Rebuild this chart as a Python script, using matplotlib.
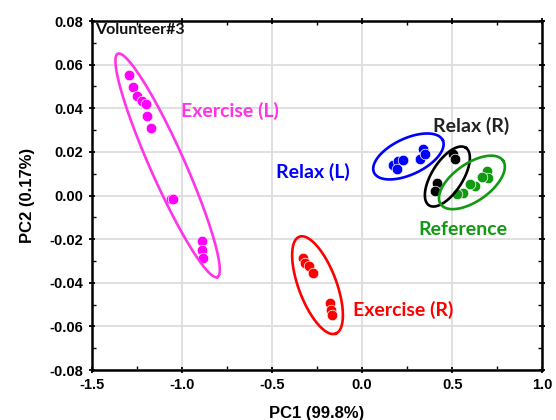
import matplotlib.pyplot as plt
import numpy as np
from matplotlib.ticker import MultipleLocator

# PCA scores (PC1, PC2) per measurement group
ex_l_pc1 = [-1.290, -1.272, -1.249, -1.222, -1.198, -1.191, -1.170, -1.062, -1.050, -0.889, -0.886, -0.884]
ex_l_pc2 = [0.0552, 0.0497, 0.0457, 0.0434, 0.0418, 0.0363, 0.0308, -0.0014, -0.0014, -0.0210, -0.0248, -0.0285]

ex_r_pc1 = [-0.329, -0.317, -0.293, -0.271, -0.178, -0.174, -0.169]
ex_r_pc2 = [-0.0286, -0.0308, -0.0325, -0.0355, -0.0493, -0.0524, -0.0547]

relax_l_pc1 = [0.171, 0.199, 0.227, 0.193, 0.321, 0.338, 0.349]
relax_l_pc2 = [0.0142, 0.0156, 0.0161, 0.0120, 0.0166, 0.0211, 0.0189]

relax_r_pc1 = [0.506, 0.515, 0.414, 0.404]
relax_r_pc2 = [0.0189, 0.0166, 0.0058, 0.0020]

ref_pc1 = [0.691, 0.700, 0.663, 0.626, 0.598, 0.561, 0.524]
ref_pc2 = [0.0112, 0.0081, 0.0087, 0.0043, 0.0051, 0.0012, 0.0005]

plt.rcParams['font.family'] = ['Liberation Sans', 'DejaVu Sans']

fig = plt.figure(figsize=(5.56, 4.2), dpi=100)
ax = fig.add_axes([0.1646, 0.119, 0.811, 0.831])

groups = [
    (ex_l_pc1, ex_l_pc2, '#ff00ff', '#ff33e8'),
    (ex_r_pc1, ex_r_pc2, '#ff0000', '#ff0000'),
    (relax_l_pc1, relax_l_pc2, '#0000ff', '#0000ff'),
    (relax_r_pc1, relax_r_pc2, '#000000', '#000000'),
    (ref_pc1, ref_pc2, '#119911', '#119911'),
]

# group outlines: centre, half major axis, half minor axis (data units)
outlines = [
    ((-1.078, 0.0138), (0.276, -0.0512), (0.0870, 0.0032)),
    ((-0.247, -0.0411), (0.1010, -0.0222), (0.0980, 0.0031)),
    ((0.257, 0.0179), (0.1907, 0.0074), (0.0420, -0.0075)),
    ((0.473, 0.0087), (0.1020, 0.0132), (0.0720, -0.0039)),
    ((0.609, 0.0060), (0.1729, 0.0100), (0.0590, -0.0071)),
]

t = np.linspace(0, 2 * np.pi, 200)
for (x, y, c, ec), (cen, maj, mnr) in zip(groups, outlines):
    ax.scatter(x, y, s=58, color=c, edgecolors='white', linewidths=0.5, zorder=3)
    ex = cen[0] + maj[0] * np.cos(t) + mnr[0] * np.sin(t)
    ey = cen[1] + maj[1] * np.cos(t) + mnr[1] * np.sin(t)
    ax.plot(ex, ey, color=ec, lw=1.9, zorder=4)

lab = dict(fontsize=14, fontweight='bold', family=['Lato', 'DejaVu Sans'], va='center')
ax.text(-1.004, 0.0386, 'Exercise (L)', color='#ff33e8', **lab)
ax.text(-0.477, 0.0110, 'Relax (L)', color='#0000ff', **lab)
ax.text(0.393, 0.0317, 'Relax (R)', color='#222222', **lab)
ax.text(0.310, -0.0156, 'Reference', color='#119911', **lab)
ax.text(-0.050, -0.0524, 'Exercise (R)', color='#ff0000', **lab)
ax.text(0.008, 0.974, 'Volunteer#3', transform=ax.transAxes, fontsize=11.5,
        family=['Lato', 'DejaVu Sans'], fontweight='bold', va='center', color='#111111')

ax.set_xlim(-1.5, 1.0)
ax.set_ylim(-0.08, 0.08)
ax.xaxis.set_major_locator(MultipleLocator(0.5))
ax.xaxis.set_minor_locator(MultipleLocator(0.25))
ax.yaxis.set_major_locator(MultipleLocator(0.02))
ax.yaxis.set_minor_locator(MultipleLocator(0.01))
ax.xaxis.set_major_formatter(plt.FormatStrFormatter('%.1f'))
ax.yaxis.set_major_formatter(plt.FormatStrFormatter('%.2f'))
ax.grid(True, which='major', color='#dddddd', lw=1.3)
ax.set_axisbelow(True)

ax.tick_params(which='major', direction='inout', length=5, width=1.3, top=True, right=True,
               labelsize=10.5)
ax.tick_params(which='minor', direction='in', length=3, width=1, top=True, right=True)
for lbl in ax.get_xticklabels() + ax.get_yticklabels():
    lbl.set_fontweight('bold')
for sp in ax.spines.values():
    sp.set_linewidth(1.8)

ax.set_xlabel('PC1 (99.8%)', fontsize=12, fontweight='bold', labelpad=10)
ax.set_ylabel('PC2 (0.17%)', fontsize=12, fontweight='bold', labelpad=10)

fig.savefig('out.png', dpi=100)
